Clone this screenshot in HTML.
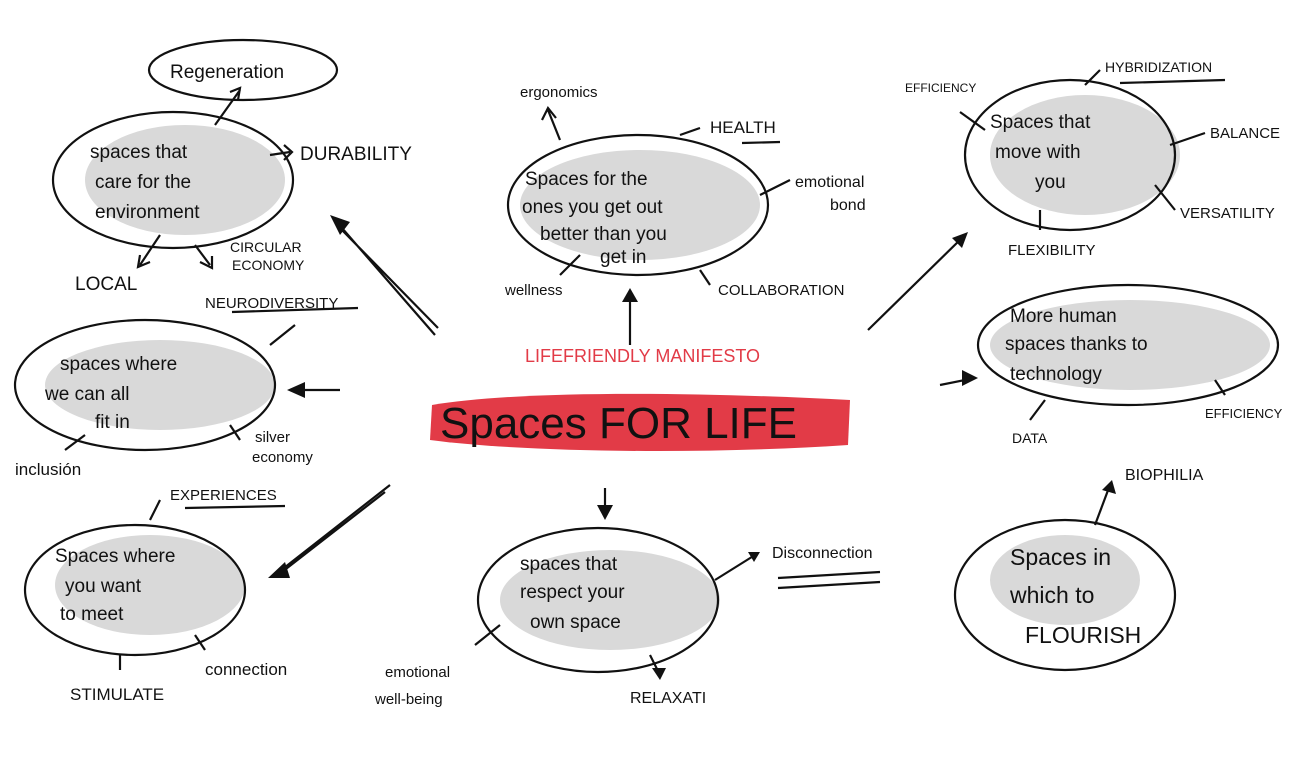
<!DOCTYPE html>
<html><head><meta charset="utf-8"><style>
html,body{margin:0;padding:0;background:#fff;}
svg{display:block}
text{font-family:"Liberation Sans",sans-serif;fill:#111;}
</style></head><body>
<svg width="1316" height="778" viewBox="0 0 1316 778" xmlns="http://www.w3.org/2000/svg">
<g fill="#d9d9d9" stroke="none">
<ellipse cx="185" cy="180" rx="100" ry="55"/>
<ellipse cx="160" cy="385" rx="115" ry="45"/>
<ellipse cx="150" cy="585" rx="95" ry="50"/>
<ellipse cx="640" cy="205" rx="120" ry="55"/>
<ellipse cx="610" cy="600" rx="110" ry="50"/>
<ellipse cx="1085" cy="155" rx="95" ry="60"/>
<ellipse cx="1130" cy="345" rx="140" ry="45"/>
<ellipse cx="1065" cy="580" rx="75" ry="45"/>
</g>
<path d="M432,405 C520,390 700,392 850,400 L848,445 C700,455 520,452 430,440 Z" fill="#e23b47"/>
<g fill="none" stroke="#111" stroke-width="2.2">
<ellipse cx="243" cy="70" rx="94" ry="30"/>
<ellipse cx="173" cy="180" rx="120" ry="68"/>
<ellipse cx="145" cy="385" rx="130" ry="65"/>
<ellipse cx="135" cy="590" rx="110" ry="65"/>
<ellipse cx="638" cy="205" rx="130" ry="70"/>
<ellipse cx="598" cy="600" rx="120" ry="72"/>
<ellipse cx="1070" cy="155" rx="105" ry="75"/>
<ellipse cx="1128" cy="345" rx="150" ry="60"/>
<ellipse cx="1065" cy="595" rx="110" ry="75"/>
<path d="M215,125 L240,90 M230,92 L240,88 L238,100"/>
<path d="M270,155 L290,152 M284,145 L292,152 L284,160"/>
<path d="M160,235 L140,265 M140,255 L138,267 L150,262"/>
<path d="M195,245 L210,265 M200,262 L212,268 L212,256"/>
<path d="M270,345 L295,325"/>
<path d="M85,435 L65,450"/><path d="M230,425 L240,440"/>
<path d="M150,520 L160,500"/><path d="M120,655 L120,670"/><path d="M195,635 L205,650"/>
<path d="M560,140 L548,110 M542,120 L548,108 L556,118"/>
<path d="M680,135 L700,128"/><path d="M760,195 L790,180"/>
<path d="M580,255 L560,275"/><path d="M700,270 L710,285"/>
<path d="M985,130 L960,112"/><path d="M1085,85 L1100,70"/><path d="M1170,145 L1205,133"/>
<path d="M1155,185 L1175,210"/><path d="M1040,210 L1040,230"/>
<path d="M1045,400 L1030,420"/><path d="M1215,380 L1225,395"/>
<path d="M1095,525 L1110,485"/>
<path d="M715,580 L755,555"/><path d="M500,625 L475,645"/><path d="M650,655 L660,675"/>
<path d="M435,335 L335,220 M438,328 L340,228"/>
<path d="M340,390 L290,390"/>
<path d="M390,485 L275,575 M385,492 L282,572"/>
<path d="M630,345 L630,295"/>
<path d="M868,330 L965,235"/>
<path d="M940,385 L975,378"/>
<path d="M605,488 L605,515"/>
<path d="M232,312 L358,308"/><path d="M185,508 L285,506"/><path d="M742,143 L780,142"/>
<path d="M1120,83 L1225,80"/><path d="M778,578 L880,572 M778,588 L880,582"/>
</g>
<g fill="#111">
<polygon points="330,215 350,222 340,235"/><polygon points="287,390 305,382 305,398"/>
<polygon points="268,578 285,562 290,578"/><polygon points="630,288 622,302 638,302"/>
<polygon points="968,232 952,238 962,248"/><polygon points="978,378 962,370 962,386"/>
<polygon points="605,520 597,505 613,505"/><polygon points="1112,480 1102,490 1116,494"/>
<polygon points="760,552 748,552 754,562"/><polygon points="660,680 652,668 666,668"/>
</g>
<g font-size="19">
<text x="170" y="78">Regeneration</text>
<text x="90" y="158">spaces that</text><text x="95" y="188">care for the</text><text x="95" y="218">environment</text>
<text x="300" y="160">DURABILITY</text>
<text x="75" y="290">LOCAL</text>
<text x="230" y="252" font-size="14">CIRCULAR</text><text x="232" y="270" font-size="14">ECONOMY</text>
<text x="205" y="308" font-size="15">NEURODIVERSITY</text>
<text x="60" y="370">spaces where</text><text x="45" y="400">we can all</text><text x="95" y="428">fit in</text>
<text x="15" y="475" font-size="17">inclusión</text>
<text x="255" y="442" font-size="15">silver</text><text x="252" y="462" font-size="15">economy</text>
<text x="170" y="500" font-size="15">EXPERIENCES</text>
<text x="55" y="562">Spaces where</text><text x="65" y="592">you want</text><text x="60" y="620">to meet</text>
<text x="70" y="700" font-size="17">STIMULATE</text><text x="205" y="675" font-size="17">connection</text>
<text x="520" y="97" font-size="15">ergonomics</text>
<text x="710" y="133" font-size="17">HEALTH</text>
<text x="795" y="187" font-size="16">emotional</text><text x="830" y="210" font-size="16">bond</text>
<text x="525" y="185">Spaces for the</text><text x="522" y="213">ones you get out</text><text x="540" y="240">better than you</text><text x="600" y="263">get in</text>
<text x="505" y="295" font-size="15">wellness</text><text x="718" y="295" font-size="15">COLLABORATION</text>
<text x="525" y="362" font-size="18" style="fill:#e23b47">LIFEFRIENDLY MANIFESTO</text>
<text x="440" y="438" font-size="44">Spaces FOR LIFE</text>
<text x="520" y="570">spaces that</text><text x="520" y="598">respect your</text><text x="530" y="628">own space</text>
<text x="772" y="558" font-size="16">Disconnection</text>
<text x="385" y="677" font-size="15">emotional</text><text x="375" y="704" font-size="15">well-being</text>
<text x="630" y="703" font-size="16">RELAXATI</text>
<text x="905" y="92" font-size="12">EFFICIENCY</text><text x="1105" y="72" font-size="14">HYBRIDIZATION</text>
<text x="1210" y="138" font-size="15">BALANCE</text><text x="1180" y="218" font-size="15">VERSATILITY</text>
<text x="1008" y="255" font-size="15">FLEXIBILITY</text>
<text x="990" y="128">Spaces that</text><text x="995" y="158">move with</text><text x="1035" y="188">you</text>
<text x="1010" y="322">More human</text><text x="1005" y="350">spaces thanks to</text><text x="1010" y="380">technology</text>
<text x="1012" y="443" font-size="14">DATA</text><text x="1205" y="418" font-size="13">EFFICIENCY</text>
<text x="1125" y="480" font-size="16">BIOPHILIA</text>
<text x="1010" y="565" font-size="23">Spaces in</text><text x="1010" y="603" font-size="23">which to</text><text x="1025" y="643" font-size="23">FLOURISH</text>
</g>
</svg>
</body></html>
